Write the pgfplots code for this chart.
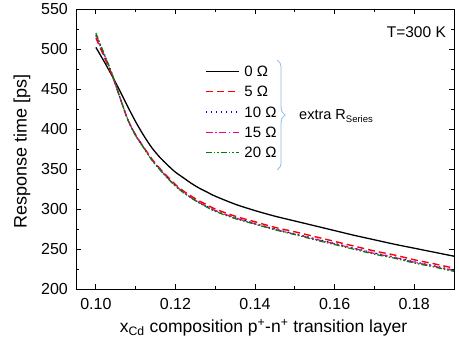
\documentclass[border=0pt]{standalone}
\usepackage{fontspec}
\setmainfont{Liberation Sans}
\usepackage{pgfplots}
\pgfplotsset{compat=1.18}
\usetikzlibrary{decorations.pathreplacing}
\definecolor{ogreen}{RGB}{0,128,0}
\definecolor{ored}{RGB}{255,0,0}
\definecolor{bracecol}{RGB}{140,185,230}
\begin{document}
\begin{tikzpicture}
\begin{axis}[
  at={(0,0)}, anchor=south west,
  scale only axis, width=378bp, height=280bp,
  xmin=0.095, xmax=0.19, ymin=200, ymax=550,
  xtick={0.10,0.12,0.14,0.16,0.18},
  minor xtick={0.11,0.13,0.15,0.17},
  ytick={200,250,300,350,400,450,500,550},
  minor ytick={225,275,325,375,425,475,525},
  tick align=inside, tick pos=both,
  major tick length=5bp, minor tick length=3bp,
  axis line style={line width=0.8bp},
  every tick/.style={black, line width=0.8bp},
  /pgf/number format/assume math mode=true,
  xticklabel style={/pgf/number format/fixed, /pgf/number format/fixed zerofill, /pgf/number format/precision=2, anchor=base, yshift=-20bp, font=\fontsize{16bp}{18bp}\selectfont},
  yticklabel style={anchor=east, inner sep=0pt, xshift=-8bp, font=\fontsize{16bp}{18bp}\selectfont},
  scaled x ticks=false,
  xlabel={x\textsubscript{Cd} composition p\textsuperscript{+}-n\textsuperscript{+} transition layer},
  ylabel={Response time [ps]},
  xlabel style={at={(axis description cs:0.496,-0.157)}, anchor=base, inner sep=0pt, font=\fontsize{17.5bp}{20bp}\selectfont},
  ylabel style={at={(axis description cs:-0.143,0.491)}, anchor=center, inner sep=0pt, font=\fontsize{18bp}{20bp}\selectfont},
  legend cell align=left,
  legend image code/.code={\draw[#1] (0bp,0bp) -- (33bp,0bp);},
  legend style={at={(axis description cs:0.341,0.80)}, anchor=north west, draw=none, fill=none,
    font=\fontsize{15bp}{18bp}\selectfont, row sep=7.8bp, inner sep=0pt,
    nodes={inner sep=1bp, text height=10.5bp, text depth=0bp},
    /tikz/every odd column/.append style={column sep=4bp}},
]
\addplot[black, line width=1.3bp, smooth] coordinates {
(0.100,502) (0.102,485) (0.104,467) (0.106,448) (0.108,428) (0.110,409)
(0.112,392) (0.114,377) (0.116,365) (0.118,355) (0.120,346) (0.122,339)
(0.124,332) (0.126,326) (0.128,321) (0.130,316) (0.135,306) (0.140,298)
(0.145,291) (0.150,285) (0.155,279) (0.160,273) (0.165,267) (0.170,261.5)
(0.175,256) (0.180,251) (0.185,246) (0.190,241)};
\addlegendentry{0 Ω}
\addplot[draw=ored, line width=1.4bp, smooth, dash pattern=on 7bp off 4bp] coordinates {
(0.100,514) (0.102,491) (0.104,468) (0.106,440) (0.108,412) (0.110,392.5)
(0.112,377.5) (0.114,363) (0.116,351) (0.118,340.5) (0.120,330.5) (0.122,322.5)
(0.124,316) (0.126,310) (0.128,305) (0.130,300) (0.135,291) (0.140,284)
(0.145,277) (0.150,271.5) (0.155,265.5) (0.160,259.5) (0.165,253.5) (0.170,247.5)
(0.175,242.5) (0.180,236.5) (0.185,231.5) (0.190,226)};
\addlegendentry{5 Ω}
\addplot[draw=blue, line width=1.2bp, smooth, dash pattern=on 1.5bp off 3.5bp] coordinates {
(0.100,517) (0.102,493) (0.104,469) (0.106,440) (0.108,412) (0.110,392)
(0.112,377) (0.114,362) (0.116,350) (0.118,339) (0.120,329) (0.122,321)
(0.124,314) (0.126,308) (0.128,303) (0.130,298) (0.135,289) (0.140,282)
(0.145,275) (0.150,269) (0.155,263) (0.160,257) (0.165,251) (0.170,245)
(0.175,240) (0.180,234) (0.185,229) (0.190,223.5)};
\addlegendentry{10 Ω}
\addplot[draw=magenta, line width=1.2bp, smooth, dash pattern=on 7bp off 2.5bp on 1.5bp off 2.5bp] coordinates {
(0.100,518) (0.102,494) (0.104,469.5) (0.106,440) (0.108,412) (0.110,392)
(0.112,377) (0.114,362) (0.116,350) (0.118,339) (0.120,329) (0.122,321)
(0.124,314) (0.126,308) (0.128,303) (0.130,298) (0.135,289) (0.140,281.5)
(0.145,274.5) (0.150,268.5) (0.155,262.5) (0.160,256.5) (0.165,250.5) (0.170,244.5)
(0.175,239.5) (0.180,233.5) (0.185,228.5) (0.190,223)};
\addlegendentry{15 Ω}
\addplot[draw=ogreen, line width=1.2bp, smooth, dash pattern=on 6bp off 2bp on 1.5bp off 2bp on 1.5bp off 2bp] coordinates {
(0.100,520) (0.102,495) (0.104,470) (0.106,440) (0.108,412) (0.110,391.5)
(0.112,376.5) (0.114,361.5) (0.116,349.5) (0.118,338.5) (0.120,328.5) (0.122,320.5)
(0.124,313.5) (0.126,307.5) (0.128,302) (0.130,297) (0.135,288) (0.140,281)
(0.145,274) (0.150,268) (0.155,261.5) (0.160,255.5) (0.165,249.5) (0.170,243.5)
(0.175,238.5) (0.180,232.5) (0.185,227.5) (0.190,222)};
\addlegendentry{20 Ω}
\draw[bracecol, line width=0.8bp, decorate, decoration={brace, amplitude=8bp}]
  (rel axis cs:0.532,0.818) -- (rel axis cs:0.532,0.425);
\node[anchor=west, inner sep=0pt, font=\fontsize{14.5bp}{18bp}\selectfont] at (rel axis cs:0.590,0.618) {extra R{\fontsize{9.5bp}{10bp}\selectfont\raisebox{-0.35em}{Series}}};
\node[anchor=east, inner sep=0pt, font=\fontsize{15.5bp}{18bp}\selectfont] at (rel axis cs:0.979,0.918) {T=300 K};
\end{axis}
\pgfresetboundingbox
\path[use as bounding box] (-76bp,-54bp) rectangle (383bp,289bp);
\end{tikzpicture}
\end{document}
